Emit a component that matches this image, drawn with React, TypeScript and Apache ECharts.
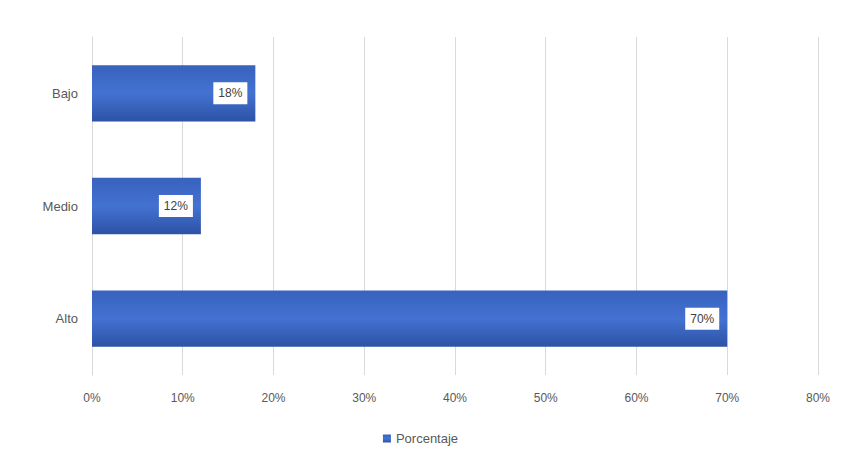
import React, { useEffect, useRef } from "react";
import * as echarts from "echarts";

const categories = ["Bajo", "Medio", "Alto"];
const values = [18, 12, 70];
const seriesName = "Porcentaje";

export default function App() {
  const ref = useRef<HTMLDivElement>(null);
  useEffect(() => {
    const chart = echarts.init(ref.current!, null, { renderer: "svg" });
    chart.setOption({
      animation: false,
      backgroundColor: "#ffffff",
      textStyle: { fontFamily: "Liberation Sans, Arial, sans-serif" },
      grid: { left: 84, right: 13, top: 29, bottom: 79 },
      legend: {
        bottom: 4,
        left: "center",
        itemWidth: 8,
        itemHeight: 8,
        itemGap: 6,
        textStyle: { color: "#595959", fontSize: 13 },
        data: [{ name: seriesName, icon: "rect" }],
      },
      xAxis: {
        type: "value",
        min: 0,
        max: 80,
        interval: 10,
        axisLabel: { formatter: "{value}%", color: "#595959", fontSize: 12, margin: 17 },
        splitLine: { lineStyle: { color: "#d9d9d9" } },
        axisLine: { show: false },
        axisTick: { show: false },
      },
      yAxis: {
        type: "category",
        inverse: true,
        data: categories,
        axisLabel: { color: "#595959", fontSize: 13, margin: 14 },
        axisLine: { show: true, lineStyle: { color: "#d9d9d9" } },
        axisTick: { show: false },
      },
      series: [
        {
          name: seriesName,
          type: "bar",
          data: values,
          barCategoryGap: "50%",
          itemStyle: {
            color: new echarts.graphic.LinearGradient(0, 0, 0, 1, [
              { offset: 0, color: "#3762bd" },
              { offset: 0.5, color: "#4472d2" },
              { offset: 1, color: "#2c52a4" },
            ]),
          },
          label: {
            show: true,
            position: "insideRight",
            distance: 8,
            formatter: "{c}%",
            color: "#404040",
            fontSize: 12,
            backgroundColor: "#ffffff",
            padding: [5, 5],
          },
        },
      ],
    });
    return () => chart.dispose();
  }, []);
  return <div ref={ref} style={{ width: 825, height: 446 }} />;
}
